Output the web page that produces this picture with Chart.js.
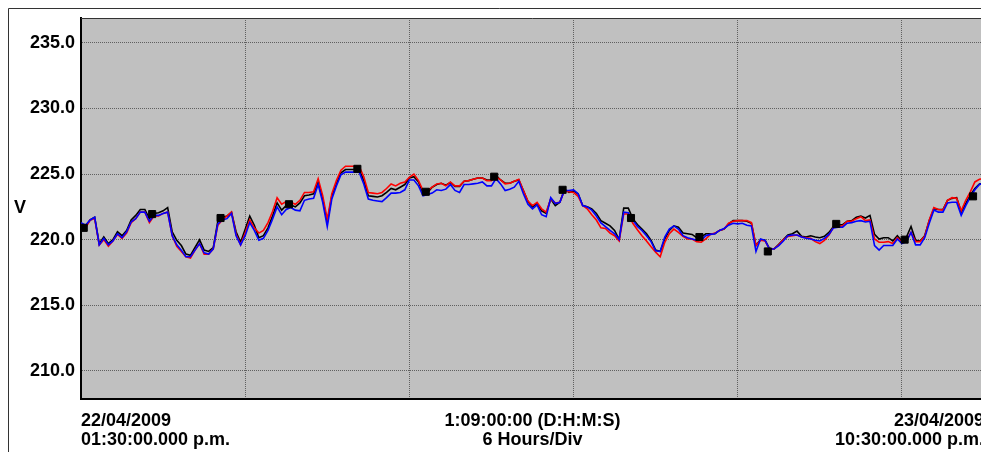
<!DOCTYPE html>
<html>
<head>
<meta charset="utf-8">
<script src="https://cdn.jsdelivr.net/npm/chart.js@4"></script>
<style>
html, body { margin: 0; padding: 0; overflow: hidden; background: #fff; }
#wrap { width: 981px; height: 455px; overflow: hidden; }
canvas { display: block; }
</style>
</head>
<body>
<div id="wrap"><canvas id="voltage-chart" width="990" height="455"></canvas></div>
<script>
// samples every 10 minutes from 22/04/2009 01:30 p.m.
const STEP_HOURS = 10 / 60;

const blackSeries = [
    221.2, 221.0, 221.5, 221.7, 219.7, 220.2, 219.7, 220.0, 220.6, 220.3,
    220.7, 221.5, 221.85, 222.3, 222.3, 221.6, 222.0, 222.05, 222.2, 222.45,
    220.6, 219.95, 219.55, 218.9, 218.8, 219.4, 220.0, 219.2, 219.1, 219.4,
    221.4, 221.7, 221.8, 222.1, 220.6, 219.8, 220.8, 221.8, 221.1, 220.15,
    220.3, 220.9, 221.8, 222.8, 222.25, 222.6, 222.65, 222.5, 222.8, 223.35,
    223.4, 223.5, 224.4, 223.1, 221.3, 223.35, 224.25, 225.1, 225.35, 225.35,
    225.35, 225.35, 224.5, 223.35, 223.3, 223.25, 223.35, 223.6, 223.9, 223.8,
    224.0, 224.2, 224.7, 224.8, 224.4, 223.55, 223.6, 224.0, 224.2, 224.3,
    224.15, 224.35, 224.05, 224.05, 224.45, 224.5, 224.6, 224.7, 224.7, 224.55,
    224.55, 224.9, 224.55, 224.3, 224.3, 224.45, 224.55, 223.75, 222.9, 222.5,
    222.75, 222.2, 222.0, 223.1, 222.6, 222.85, 223.85, 223.6, 223.7, 223.5,
    222.6, 222.5, 222.35, 222.0, 221.45, 221.25, 221.05, 220.7, 220.0, 222.4,
    222.4, 221.6, 221.15, 220.8, 220.45, 219.95, 219.2, 219.1, 220.05, 220.7,
    221.05, 220.95, 220.5, 220.45, 220.4, 220.15, 220.2, 220.45, 220.45, 220.45,
    220.7, 220.8, 221.2, 221.45, 221.45, 221.45, 221.4, 221.25, 219.55, 220.0,
    219.95, 219.3, 219.3, 219.65, 220.0, 220.35, 220.45, 220.65, 220.25, 220.2,
    220.3, 220.2, 220.15, 220.25, 220.55, 221.0, 221.1, 221.15, 221.4, 221.45,
    221.7, 221.8, 221.65, 221.85, 220.4, 220.05, 220.15, 220.15, 219.9, 220.3,
    219.9, 220.2, 221.0, 219.95, 219.9, 220.3, 221.45, 222.35, 222.3, 222.3,
    223.0, 223.15, 223.2, 222.1, 222.75, 223.4, 223.9, 224.25, 224.3
];

const redSeries = [
    221.2, 220.9, 221.5, 221.6, 219.6, 220.0, 219.5, 219.9, 220.4, 220.1,
    220.5, 221.3, 221.6, 222.1, 222.1, 221.3, 221.8, 221.8, 222.0, 222.1,
    220.3, 219.5, 219.1, 218.7, 218.6, 219.2, 219.7, 218.9, 218.9, 219.3,
    221.1, 221.5, 221.8, 222.1, 220.4, 219.6, 220.5, 221.5, 220.9, 220.5,
    220.7, 221.3, 222.15, 223.2, 222.7, 222.9, 222.85, 222.7, 223.0, 223.6,
    223.6, 223.65, 224.65, 223.35, 221.55, 223.5, 224.5, 225.3, 225.6, 225.6,
    225.6, 225.6, 224.8, 223.6, 223.55, 223.5, 223.6, 223.9, 224.25, 224.1,
    224.3, 224.4, 224.75, 225.0, 224.5, 223.75, 223.75, 224.0, 224.25, 224.3,
    224.1, 224.4, 224.1, 224.1, 224.45, 224.5, 224.6, 224.7, 224.7, 224.5,
    224.5, 224.8, 224.55, 224.25, 224.3, 224.45, 224.6, 223.75, 222.95, 222.6,
    222.85, 222.35, 222.1, 223.1, 222.8, 222.85, 223.75, 223.65, 223.6, 223.3,
    222.6, 222.35, 221.9, 221.5, 220.9, 220.85, 220.5, 220.3, 219.9, 221.95,
    221.95, 221.25, 220.75, 220.3, 219.9, 219.45, 219.05, 218.7, 219.8, 220.45,
    220.8, 220.55, 220.25, 220.05, 220.05, 219.85, 219.8, 220.05, 220.4, 220.5,
    220.7, 220.8, 221.25, 221.4, 221.45, 221.45, 221.45, 221.3, 219.55, 219.95,
    219.9, 219.25, 219.3, 219.6, 220.0, 220.25, 220.3, 220.35, 220.2, 220.15,
    220.1, 219.85, 219.7, 219.95, 220.35, 220.95, 221.0, 221.05, 221.4, 221.4,
    221.6, 221.75, 221.45, 221.5, 220.05, 219.8, 219.8, 219.85, 219.7, 220.15,
    219.8, 219.95, 220.55, 219.85, 219.85, 220.25, 221.5, 222.45, 222.3, 222.25,
    223.0, 223.2, 223.15, 222.2, 223.0, 223.65, 224.4, 224.6, 224.65
];

const blueSeries = [
    221.3, 221.1, 221.5, 221.7, 219.6, 220.1, 219.6, 219.9, 220.45, 220.15,
    220.6, 221.35, 221.6, 222.1, 222.1, 221.4, 221.85, 221.85, 222.0, 222.1,
    220.3, 219.6, 219.2, 218.7, 218.7, 219.2, 219.7, 219.0, 218.9, 219.3,
    221.2, 221.5, 221.6, 222.0, 220.3, 219.6, 220.3, 221.3, 220.7, 219.95,
    220.1, 220.7, 221.55, 222.5, 221.9, 222.3, 222.45, 222.25, 222.2, 223.0,
    223.1, 223.15, 224.2, 222.85, 221.0, 223.1, 224.1, 224.95, 225.15, 225.15,
    225.15, 225.15, 224.25, 223.1, 223.0, 222.95, 222.9, 223.2, 223.55, 223.55,
    223.6, 223.8, 224.55, 224.55, 224.1, 223.35, 223.45, 223.55, 223.8, 223.75,
    223.85, 224.2, 223.75, 223.6, 224.2, 224.2, 224.25, 224.3, 224.4, 224.1,
    224.1, 224.65, 224.25, 223.75, 223.85, 224.0, 224.45, 223.5, 222.7, 222.35,
    222.65, 221.9, 221.75, 223.2, 222.75, 222.85, 223.75, 223.75, 223.8, 223.5,
    222.6, 222.5, 222.25, 221.8, 221.27, 221.0, 220.7, 220.45, 220.0, 222.1,
    222.05, 221.5, 221.0, 220.7, 220.3, 219.85, 219.15, 219.1, 220.2, 220.8,
    221.05, 220.8, 220.3, 220.15, 220.05, 219.95, 219.95, 220.3, 220.4, 220.45,
    220.7, 220.85, 221.1, 221.25, 221.2, 221.25, 221.1, 221.05, 219.1, 220.05,
    219.95, 219.25, 219.3, 219.55, 219.9, 220.3, 220.35, 220.35, 220.2, 220.1,
    220.05, 219.95, 219.9, 220.1, 220.4, 220.9, 220.95, 220.95, 221.25, 221.3,
    221.4, 221.45, 221.35, 221.4, 219.55, 219.2, 219.55, 219.55, 219.55, 220.05,
    219.7, 219.85, 220.55, 219.6, 219.6, 220.15, 221.25, 222.25, 222.1, 222.1,
    222.8, 222.85, 222.85, 221.85, 222.6, 223.25, 223.8, 224.2, 224.3
];

// square markers, every 2.5 hours
const markerHours = [0.1, 2.6, 5.1, 7.6, 10.1, 12.6, 15.1, 17.6, 20.1, 22.6, 25.1, 27.6, 30.1, 32.6];
const markerValues = [220.9, 221.95, 221.65, 222.7, 225.4, 223.65, 224.8, 223.8, 221.65, 220.2, 219.1, 221.2, 220.0, 223.3];

const yTickValues = [210, 215, 220, 225, 230, 235];
const xGridHours = [0, 6, 12, 18, 24, 30];
const totalHours = 33;

const startLabel = ["22/04/2009", "01:30:00.000 p.m."];
const spanLabel = ["1:09:00:00 (D:H:M:S)", "6 Hours/Div"];
const endLabel = ["23/04/2009", "10:30:00.000 p.m."];
const unitLabel = "V";

const FONT = '"Liberation Sans", Arial, sans-serif';

function toPoints(values) {
    return values.map((v, i) => ({ x: i * STEP_HOURS, y: v }));
}

// gray plot background, outer frame and the captions under the plot
const plotDecor = {
    id: "plotDecor",
    beforeDraw(chart) {
        const { ctx, chartArea: a } = chart;
        ctx.save();
        ctx.fillStyle = "#c0c0c0";
        ctx.fillRect(a.left, a.top, a.right - a.left, a.bottom - a.top);
        ctx.strokeStyle = "#333";
        ctx.lineWidth = 1;
        ctx.beginPath();
        ctx.moveTo(8.5, 452);
        ctx.lineTo(8.5, 8.5);
        ctx.lineTo(chart.width, 8.5);
        ctx.stroke();
        ctx.restore();
    },
    afterDraw(chart) {
        const { ctx, chartArea: a } = chart;
        ctx.save();
        ctx.strokeStyle = "#333";
        ctx.lineWidth = 1;
        ctx.beginPath();
        ctx.moveTo(a.left, a.top + 0.5);
        ctx.lineTo(a.right, a.top + 0.5);
        ctx.stroke();

        ctx.fillStyle = "#000";
        ctx.font = "bold 18px " + FONT;
        ctx.textBaseline = "alphabetic";
        const y1 = a.bottom + 27;
        const y2 = a.bottom + 46;
        ctx.textAlign = "left";
        ctx.fillText(startLabel[0], a.left, y1);
        ctx.fillText(startLabel[1], a.left, y2);
        ctx.textAlign = "center";
        const mid = (a.left + a.right) / 2;
        ctx.fillText(spanLabel[0], mid, y1);
        ctx.fillText(spanLabel[1], mid, y2);
        ctx.textAlign = "right";
        ctx.fillText(endLabel[0], a.right, y1);
        ctx.fillText(endLabel[1], a.right, y2);

        ctx.textAlign = "center";
        ctx.textBaseline = "middle";
        ctx.fillText(unitLabel, 20, (a.top + a.bottom) / 2);
        ctx.restore();
    },
};

const ctx = document.getElementById("voltage-chart").getContext("2d");

new Chart(ctx, {
    type: "line",
    data: {
        datasets: [
            {
                label: "markers",
                data: markerHours.map((h, i) => ({ x: h, y: markerValues[i] })),
                showLine: false,
                pointStyle: "rect",
                pointRadius: 5,
                backgroundColor: "#000",
                borderColor: "#000",
                borderWidth: 1,
            },
            {
                label: "blue",
                data: toPoints(blueSeries),
                borderColor: "#0000ff",
                borderWidth: 1.6,
                pointRadius: 0,
                tension: 0,
            },
            {
                label: "red",
                data: toPoints(redSeries),
                borderColor: "#ff0000",
                borderWidth: 1.6,
                pointRadius: 0,
                tension: 0,
            },
            {
                label: "black",
                data: toPoints(blackSeries),
                borderColor: "#000000",
                borderWidth: 1.6,
                pointRadius: 0,
                tension: 0,
            },
        ],
    },
    options: {
        responsive: false,
        animation: false,
        layout: {
            padding: { left: 0, top: 18, right: 6, bottom: 56 },
        },
        plugins: {
            legend: { display: false },
            tooltip: { enabled: false },
        },
        scales: {
            x: {
                type: "linear",
                min: 0,
                max: totalHours,
                afterBuildTicks: scale => {
                    scale.ticks = xGridHours.map(value => ({ value }));
                },
                ticks: { display: false },
                grid: { color: "#606060", lineWidth: 1, drawTicks: false },
                border: { display: true, color: "#000", width: 2, dash: [1, 1] },
            },
            y: {
                min: 207.85,
                max: 236.9,
                afterFit: scale => {
                    scale.width = 81;
                },
                afterBuildTicks: scale => {
                    scale.ticks = yTickValues.map(value => ({ value }));
                },
                ticks: {
                    callback: value => Number(value).toFixed(1),
                    color: "#000",
                    padding: 6,
                    font: { family: FONT, size: 18, weight: "bold" },
                },
                grid: { color: "#606060", lineWidth: 1, drawTicks: false },
                border: { display: true, color: "#000", width: 2, dash: [1, 1] },
            },
        },
    },
    plugins: [plotDecor],
});
</script>
</body>
</html>
